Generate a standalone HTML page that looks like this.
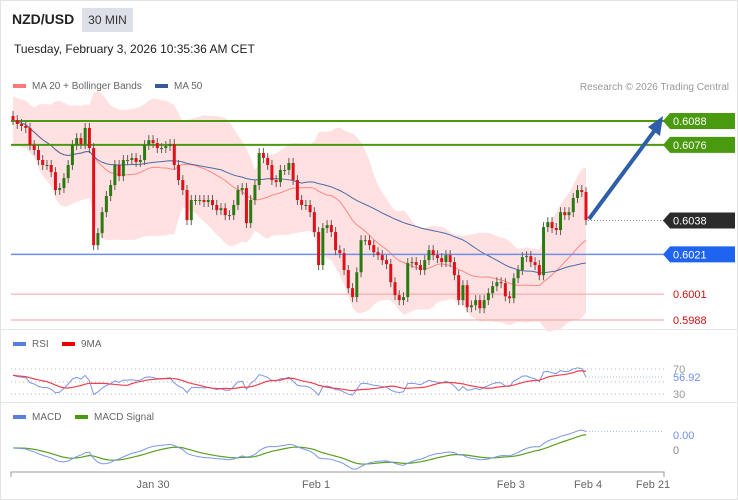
<!DOCTYPE html>
<html><head><meta charset="utf-8"><style>
body{margin:0;background:#fff;font-family:"Liberation Sans",sans-serif;}
#wrap{position:relative;width:736px;height:498px;border:1px solid #e3e3e3;overflow:hidden}
.t{position:absolute;white-space:nowrap}
</style></head><body>
<div id="wrap">
<div class="t" style="left:11px;top:10px;font-size:14px;font-weight:bold;color:#222">NZD/USD</div>
<div class="t" style="left:81px;top:7px;width:51px;height:24px;background:#dde0e8;font-size:12px;line-height:24px;text-align:center;color:#333">30 MIN</div>
<div class="t" style="left:13px;top:41px;font-size:12px;color:#222">Tuesday, February 3, 2026 10:35:36 AM CET</div>
<svg id="svg" width="738" height="500" style="position:absolute;left:-1px;top:-1px"></svg>
</div>
<script>
const closes=[.60885,.60865,.60855,.60845,.60759,.60734,.60684,.60659,.60659,.60623,.60533,.60543,.60593,.60659,.60759,.60794,.60764,.60845,.60744,.60256,.60317,.60422,.60503,.60558,.60659,.60603,.60684,.60684,.60694,.60674,.60684,.60759,.60784,.60769,.60744,.60744,.60754,.60764,.60659,.60583,.60533,.60382,.60483,.60483,.60483,.60473,.60483,.60458,.60432,.60442,.60407,.60407,.60458,.60533,.60543,.60367,.60483,.60558,.60719,.60694,.60659,.60583,.60573,.60634,.60634,.60669,.60583,.60483,.60458,.60458,.60422,.60322,.60156,.60342,.60357,.60322,.60231,.60216,.60131,.60040,.59995,.60120,.60281,.60281,.60256,.60221,.60206,.60181,.60161,.60070,.60005,.59980,.59995,.60166,.60171,.60156,.60131,.60181,.60231,.60206,.60191,.60171,.60206,.60171,.60105,.59980,.60055,.59944,.59954,.59980,.59939,.59980,.60015,.60050,.60070,.60065,.59999,.59989,.60090,.60131,.60196,.60201,.60171,.60156,.60105,.60347,.60372,.60342,.60332,.60422,.60407,.60422,.60493,.60533,.60523,.60382];
const levelValues=[0.6088,0.6076,0.6038,0.6021,0.6001,0.5988];
const levelLabels=["0.6088","0.6076","0.6038","0.6021","0.6001","0.5988"];
const xTickLabels=["Jan 30","Feb 1","Feb 3","Feb 4","Feb 21"];
const xTickIndex=[33,71.4,117.3,135.5,150.8];
const rsiLast="56.92";

const NS="http://www.w3.org/2000/svg";
const svg=document.getElementById('svg');
function mk(tag,attrs,parent){const e=document.createElementNS(NS,tag);for(const k in attrs)e.setAttribute(k,attrs[k]);(parent||svg).appendChild(e);return e;}
const n=closes.length;
const X0=13,X1=586;
const xs=i=>X0+i*(X1-X0)/(n-1);
const yp=v=>121+(0.6088-v)*19900;

let e;
e=mk('line',{x1:1,x2:737,y1:329.5,y2:329.5,stroke:'#e6e6e6'});

e=mk('line',{x1:1,x2:737,y1:402.5,y2:402.5,stroke:'#e6e6e6'});


function legend(x,y,color,text,name){const g=mk('g',{});
mk('rect',{x:x,y:y-3,width:13,height:4,fill:color},g);const t=mk('text',{x:x+19,y:y+2,'font-size':10,fill:'#666','font-family':'Liberation Sans'},g);t.textContent=text;}
legend(13,87,'#f77','MA 20 + Bollinger Bands','legend-ma20');
legend(155,87,'#3a5a96','MA 50','legend-ma50');
e=mk('text',{x:729,y:90,'font-size':10,fill:'#999','text-anchor':'end','font-family':'Liberation Sans'});e.textContent='Research © 2026 Trading Central';

legend(13,345,'#5b7fe0','RSI','legend-rsi');
legend(62,345,'#e00','9MA','legend-rsi-9ma');
legend(13,418,'#5b7fe0','MACD','legend-macd');
legend(75,418,'#4a9a10','MACD Signal','legend-macd-signal');

function sma(arr,p){return arr.map((_,i)=>{const s=arr.slice(Math.max(0,i-p+1),i+1);return s.reduce((a,b)=>a+b,0)/s.length;});}
function sd(arr,p){return arr.map((_,i)=>{const s=arr.slice(Math.max(0,i-p+1),i+1);const m=s.reduce((a,b)=>a+b,0)/s.length;return Math.sqrt(s.reduce((a,b)=>a+(b-m)*(b-m),0)/s.length);});}
function ema(arr,p){const k=2/(p+1);let o=[arr[0]];for(let i=1;i<arr.length;i++)o.push(arr[i]*k+o[i-1]*(1-k));return o;}
const ma20=sma(closes,20),ma50=sma(closes,50),sdv=sd(closes,20);
const bandW=sdv.map(s=>Math.max(2.2*s,0.0012));
const up=ma20.map((m,i)=>m+bandW[i]),lo=ma20.map((m,i)=>m-bandW[i]);
let pts=up.map((v,i)=>xs(i)+','+yp(v)).join(' ')+' '+lo.map((v,i)=>xs(i)+','+yp(v)).reverse().join(' ');
e=mk('polygon',{points:pts,fill:'#ffdede',opacity:0.9});

e=mk('polyline',{points:ma20.map((v,i)=>xs(i)+','+yp(v)).join(' '),fill:'none',stroke:'#f88',"stroke-width":1});

e=mk('polyline',{points:ma50.map((v,i)=>xs(i)+','+yp(v)).join(' '),fill:'none',stroke:'#4a6aa6',"stroke-width":1});


const lvlColor=['#4a9a10','#4a9a10',null,'#6d8ff0','#f3a0a0','#f3a0a0'];
levelValues.forEach((v,i)=>{const y=yp(v);
 if(lvlColor[i]){const l=mk('line',{x1:11,x2:664,y1:y,y2:y,stroke:lvlColor[i],'stroke-width':i<2?2:(i==3?1.5:1)});
 }
});
e=mk('line',{x1:588,x2:664,y1:yp(0.6038),y2:yp(0.6038),stroke:'#888','stroke-dasharray':'1,2'});


closes.forEach((c,i)=>{const o=i?closes[i-1]:c+0.0002;const x=xs(i);const col=c>=o?'#2a7a12':'#e0101a';
 const hi=Math.max(o,c)+0.00025,lw=Math.min(o,c)-0.00025;
 const g=mk('g',{});
 
 mk('line',{x1:x,x2:x,y1:yp(hi),y2:yp(lw),stroke:'#6a5a5a','stroke-width':1},g);
 const t=Math.min(yp(o),yp(c));mk('rect',{x:x-1.5,y:t,width:3,height:Math.max(1,Math.abs(yp(o)-yp(c))),fill:col},g);
});

e=mk('g',{});
mk('line',{x1:589,y1:219,x2:655,y2:130,stroke:'#2e5fa8','stroke-width':4},e);
mk('polygon',{points:'663,116 648,127 660,136',fill:'#2e5fa8'},e);

const boxCol=['#4a9a10','#4a9a10','#2b2b2b','#1e64f0',null,null];
levelValues.forEach((v,i)=>{const y=yp(v);const g=mk('g',{});
 
 if(boxCol[i]){mk('polygon',{points:`663,${y} 670,${y-8} 735,${y-8} 735,${y+8} 670,${y+8}`,fill:boxCol[i]},g);}
 const t=mk('text',{x:673,y:y+4,'font-size':11,fill:boxCol[i]?'#fff':'#d01010','font-family':'Liberation Sans'},g);t.textContent=levelLabels[i];});

let gains=[0],losses=[0];for(let i=1;i<n;i++){const d=closes[i]-closes[i-1];gains.push(Math.max(d,0));losses.push(Math.max(-d,0));}
let ag=0.0003,al=0.0002,rsi=[];for(let i=0;i<n;i++){ag=(ag*13+gains[i])/14;al=(al*13+losses[i])/14;rsi.push(100-100/(1+ag/Math.max(al,1e-9)));}
const rsiMa=sma(rsi,9);
const yr=v=>369+(70-v)*0.625;
[369,382,394].forEach((y,j)=>{const l=mk('line',{x1:11,x2:664,y1:y,y2:y,stroke:'#bbb','stroke-dasharray':'1,3'});});
e=mk('polyline',{points:rsi.map((v,i)=>xs(i)+','+yr(v)).join(' '),fill:'none',stroke:'#7b96e8','stroke-width':1});

e=mk('polyline',{points:rsiMa.map((v,i)=>xs(i)+','+yr(v)).join(' '),fill:'none',stroke:'#f04050','stroke-width':1.2});

e=mk('line',{x1:586,x2:664,y1:yr(rsi[n-1]),y2:yr(rsi[n-1]),stroke:'#aab8f0','stroke-dasharray':'1,2'});

[['70',373,'#999'],['56.92',381,'#6d8ff0'],['30',398,'#999']].forEach(a=>{const t=mk('text',{x:673,y:a[1],'font-size':11,fill:a[2],'font-family':'Liberation Sans'});t.textContent=a[0]==='56.92'?rsiLast:a[0];});

const e12=ema(closes,12),e26=ema(closes,26);const macd=e12.map((v,i)=>v-e26[i]);const sig=ema(macd,9);
const mn=Math.min(...macd,...sig),mx=Math.max(...macd,...sig);
const ym=v=>469-(v-mn)/(mx-mn)*39;
e=mk('polyline',{points:sig.map((v,i)=>xs(i)+','+ym(v)).join(' '),fill:'none',stroke:'#5aa020','stroke-width':1.2});

e=mk('polyline',{points:macd.map((v,i)=>xs(i)+','+ym(v)).join(' '),fill:'none',stroke:'#7b96e8','stroke-width':1});

e=mk('line',{x1:586,x2:664,y1:ym(macd[n-1]),y2:ym(macd[n-1]),stroke:'#aab8f0','stroke-dasharray':'1,2'});

e=mk('text',{x:673,y:439,'font-size':11,fill:'#6d8ff0','font-family':'Liberation Sans'});e.textContent='0.00';

e=mk('text',{x:673,y:454,'font-size':11,fill:'#888','font-family':'Liberation Sans'});e.textContent='0';


e=mk('path',{d:'M11,477 V472 H664 V477',fill:'none',stroke:'#999','stroke-width':1});

xTickLabels.forEach((lab,j)=>{const x=xs(xTickIndex[j]);const t=mk('text',{x:x,y:488,'font-size':11,fill:'#666','text-anchor':'middle','font-family':'Liberation Sans'});t.textContent=lab;
 });
</script>
</body></html>
